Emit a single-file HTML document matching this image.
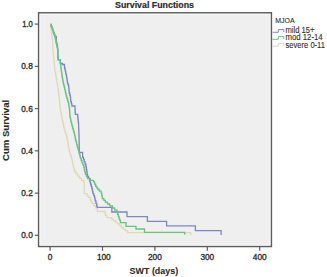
<!DOCTYPE html>
<html><head><meta charset="utf-8"><style>
html,body{margin:0;padding:0;background:#fff;width:327px;height:277px;overflow:hidden}
svg{display:block}
text{font-family:"Liberation Sans",sans-serif;fill:#2a2a2a;stroke:#2a2a2a;stroke-width:0.32px}
.tk{font-size:8.3px}
.bd{font-weight:bold;stroke-width:0.08px}
.lg{font-size:8.3px;stroke-width:0.1px}
.ax{stroke:#5c5c5c;stroke-width:1.2}
.c{fill:none;stroke-width:1.3;stroke-linejoin:miter}
</style></head><body>
<svg width="327" height="277" viewBox="0 0 327 277">
<rect x="38.6" y="12.8" width="232.8" height="233.7" fill="#efefef" stroke="#5c5c5c" stroke-width="1.5"/>
<rect x="40.1" y="14.3" width="229.8" height="230.7" fill="none" stroke="#f7f7f7" stroke-width="1"/>
<line x1="34.8" y1="24.1" x2="38.7" y2="24.1" class="ax"/>
<text x="32.8" y="27.200000000000003" text-anchor="end" class="tk" textLength="10.6" lengthAdjust="spacingAndGlyphs">1.0</text>
<line x1="34.8" y1="66.35" x2="38.7" y2="66.35" class="ax"/>
<text x="32.8" y="69.44999999999999" text-anchor="end" class="tk" >0.8</text>
<line x1="34.8" y1="108.6" x2="38.7" y2="108.6" class="ax"/>
<text x="32.8" y="111.69999999999999" text-anchor="end" class="tk" >0.6</text>
<line x1="34.8" y1="150.85" x2="38.7" y2="150.85" class="ax"/>
<text x="32.8" y="153.95" text-anchor="end" class="tk" >0.4</text>
<line x1="34.8" y1="193.1" x2="38.7" y2="193.1" class="ax"/>
<text x="32.8" y="196.2" text-anchor="end" class="tk" >0.2</text>
<line x1="34.8" y1="235.35" x2="38.7" y2="235.35" class="ax"/>
<text x="32.8" y="238.45" text-anchor="end" class="tk" >0.0</text>
<line x1="50.1" y1="246.5" x2="50.1" y2="250.8" class="ax"/>
<text x="50.1" y="259.6" text-anchor="middle" class="tk">0</text>
<line x1="102.5" y1="246.5" x2="102.5" y2="250.8" class="ax"/>
<text x="103.8" y="259.6" text-anchor="middle" class="tk">100</text>
<line x1="154.9" y1="246.5" x2="154.9" y2="250.8" class="ax"/>
<text x="154.9" y="259.6" text-anchor="middle" class="tk">200</text>
<line x1="207.3" y1="246.5" x2="207.3" y2="250.8" class="ax"/>
<text x="207.3" y="259.6" text-anchor="middle" class="tk">300</text>
<line x1="259.7" y1="246.5" x2="259.7" y2="250.8" class="ax"/>
<text x="259.7" y="259.6" text-anchor="middle" class="tk">400</text>
<text x="115" y="8.4" class="bd" style="stroke-width:0.2px" font-size="9.4" textLength="79" lengthAdjust="spacingAndGlyphs">Survival Functions</text>
<text x="129.6" y="273.5" class="bd" font-size="9.3" textLength="48.6" lengthAdjust="spacingAndGlyphs">SWT (days)</text>
<text transform="translate(8.5,160.9) rotate(-90)" x="0" y="0" class="bd" font-size="9.3" textLength="61" lengthAdjust="spacingAndGlyphs">Cum Survival</text>
<text x="275.2" y="22.9" class="lg" style="font-size:7.8px" textLength="19.4" lengthAdjust="spacingAndGlyphs">MJOA</text>
<text x="285.5" y="32.9" class="lg" textLength="29" lengthAdjust="spacingAndGlyphs">mild 15+</text>
<text x="285.5" y="39.9" class="lg" textLength="37.2" lengthAdjust="spacingAndGlyphs">mod 12-14</text>
<text x="285.5" y="47.6" class="lg" textLength="39.5" lengthAdjust="spacingAndGlyphs">severe 0-11</text>
<polyline class="c" stroke="#7c86cc" style="stroke-width:1" points="272.5,32.3 278.3,32.3 278.3,29.6 283.8,29.6 283.8,32"/>
<polyline class="c" stroke="#68c47c" style="stroke-width:1" points="272.5,39.3 278.3,39.3 278.3,36.6 283.8,36.6 283.8,39"/>
<polyline class="c" stroke="#e0dab4" style="stroke-width:1" points="272.5,46.3 278.3,46.3 278.3,43.6 283.8,43.6 283.8,46"/>
<polyline class="c" stroke="#e0dab4" points="50.50,24.40 50.73,24.40 50.73,26.50 50.95,26.50 50.95,28.60 51.18,28.60 51.18,30.70 51.40,30.70 51.40,32.80 51.68,32.80 51.68,34.98 51.95,34.98 51.95,37.15 52.23,37.15 52.23,39.32 52.50,39.32 52.50,41.50 52.60,41.50 52.60,43.60 52.70,43.60 52.70,45.70 52.80,45.70 52.80,47.80 52.90,47.80 52.90,49.90 53.00,49.90 53.00,52.00 53.20,52.00 53.20,53.95 53.40,53.95 53.40,55.90 53.60,55.90 53.60,57.85 53.80,57.85 53.80,59.80 54.02,59.80 54.02,61.96 54.24,61.96 54.24,64.12 54.46,64.12 54.46,66.28 54.68,66.28 54.68,68.44 54.90,68.44 54.90,70.60 55.22,70.60 55.22,72.48 55.54,72.48 55.54,74.36 55.86,74.36 55.86,76.24 56.18,76.24 56.18,78.12 56.50,78.12 56.50,80.00 56.86,80.00 56.86,82.16 57.22,82.16 57.22,84.32 57.58,84.32 57.58,86.48 57.94,86.48 57.94,88.64 58.30,88.64 58.30,90.80 58.52,90.80 58.52,92.98 58.74,92.98 58.74,95.16 58.96,95.16 58.96,97.34 59.18,97.34 59.18,99.52 59.40,99.52 59.40,101.70 59.68,101.70 59.68,103.77 59.95,103.77 59.95,105.85 60.23,105.85 60.23,107.92 60.50,107.92 60.50,110.00 60.86,110.00 60.86,112.16 61.22,112.16 61.22,114.32 61.58,114.32 61.58,116.48 61.94,116.48 61.94,118.64 62.30,118.64 62.30,120.80 62.80,120.80 62.80,122.97 63.30,122.97 63.30,125.15 63.80,125.15 63.80,127.33 64.30,127.33 64.30,129.50 64.85,129.50 64.85,131.30 65.40,131.30 65.40,133.10 65.95,133.10 65.95,134.90 66.50,134.90 66.50,136.70 66.93,136.70 66.93,138.70 67.37,138.70 67.37,140.70 67.80,140.70 67.80,142.70 68.08,142.70 68.08,144.52 68.35,144.52 68.35,146.35 68.63,146.35 68.63,148.18 68.90,148.18 68.90,150.00 69.43,150.00 69.43,151.80 69.97,151.80 69.97,153.60 70.50,153.60 70.50,155.40 71.03,155.40 71.03,157.20 71.57,157.20 71.57,159.00 72.10,159.00 72.10,160.80 72.47,160.80 72.47,162.63 72.83,162.63 72.83,164.47 73.20,164.47 73.20,166.30 73.63,166.30 73.63,168.03 74.07,168.03 74.07,169.77 74.50,169.77 74.50,171.50 76.00,171.50 76.00,173.85 77.50,173.85 77.50,176.20 79.55,176.20 79.55,178.40 81.60,178.40 81.60,180.60 83.70,180.60 83.70,182.80 84.30,182.80 84.30,184.00 84.30,193.60 87.00,193.60 87.00,195.80 88.60,195.80 88.60,197.40 90.20,197.40 90.20,199.00 90.75,199.00 90.75,200.50 91.30,200.50 91.30,202.00 92.30,202.00 92.30,203.70 94.10,203.70 94.10,205.85 95.90,205.85 95.90,208.00 97.40,208.00 97.40,209.40 97.40,211.50 104.60,211.50 105.00,211.50 105.00,213.40 105.40,213.40 105.40,215.30 106.90,215.30 106.90,217.60 111.50,217.60 111.50,219.10 113.40,219.10 113.40,220.65 115.30,220.65 115.30,222.20 117.20,222.20 117.20,223.70 119.10,223.70 119.10,225.20 121.40,225.20 121.40,227.50 123.30,227.50 123.30,229.05 125.20,229.05 125.20,230.60 127.50,230.60 127.50,232.60 190.80,232.60 190.80,235.20"/>
<polyline class="c" stroke="#7c86cc" points="50.50,24.40 51.20,24.40 51.20,26.42 51.90,26.42 51.90,28.43 52.60,28.43 52.60,30.45 53.30,30.45 53.30,32.47 54.00,32.47 54.00,34.48 54.70,34.48 54.70,36.50 56.30,36.50 56.30,42.60 56.85,42.60 56.85,44.80 57.40,44.80 57.40,47.00 57.65,47.00 57.65,49.50 57.90,49.50 57.90,52.00 57.90,52.00 57.90,54.25 57.90,54.25 57.90,56.50 58.10,56.50 58.10,58.15 58.30,58.15 58.30,59.80 60.30,59.80 60.30,61.00 60.30,63.50 62.50,63.50 62.50,64.50 64.20,64.50 64.40,64.50 64.40,66.50 64.60,66.50 64.60,68.50 65.15,68.50 65.15,70.90 65.70,70.90 65.70,73.30 66.10,73.30 66.10,74.95 66.50,74.95 66.50,76.60 66.75,76.60 66.75,78.30 67.00,78.30 67.00,80.00 67.25,80.00 67.25,81.65 67.50,81.65 67.50,83.30 68.05,83.30 68.05,84.90 68.60,84.90 68.60,86.50 68.80,86.50 68.80,88.67 69.00,88.67 69.00,90.83 69.20,90.83 69.20,93.00 69.75,93.00 69.75,95.15 70.30,95.15 70.30,97.30 70.55,97.30 70.55,99.50 70.80,99.50 70.80,101.70 71.35,101.70 71.35,103.85 71.90,103.85 71.90,106.00 74.80,106.00 74.92,106.00 74.92,108.08 75.05,108.08 75.05,110.15 75.17,110.15 75.17,112.23 75.30,112.23 75.30,114.30 77.50,114.30 77.67,114.30 77.67,116.13 77.83,116.13 77.83,117.97 78.00,117.97 78.00,119.80 78.20,119.80 78.20,121.60 78.40,121.60 78.40,123.40 78.60,123.40 78.60,125.20 78.67,125.20 78.67,127.31 78.74,127.31 78.74,129.43 78.81,129.43 78.81,131.54 78.89,131.54 78.89,133.66 78.96,133.66 78.96,135.77 79.03,135.77 79.03,137.89 79.10,137.89 79.10,140.00 79.13,140.00 79.13,142.08 79.17,142.08 79.17,144.17 79.20,144.17 79.20,146.25 79.23,146.25 79.23,148.33 79.27,148.33 79.27,150.42 79.30,150.42 79.30,152.50 82.60,152.50 82.60,152.50 82.60,154.90 82.60,154.90 82.60,157.30 83.40,157.30 83.40,159.50 84.20,159.50 84.20,161.70 85.00,161.70 85.00,163.85 85.80,163.85 85.80,166.00 86.15,166.00 86.15,168.00 86.50,168.00 86.50,170.00 86.83,170.00 86.83,172.17 87.17,172.17 87.17,174.33 87.50,174.33 87.50,176.50 88.50,176.50 88.50,178.25 89.50,178.25 89.50,180.00 89.90,180.00 89.90,181.50 90.30,181.50 90.30,183.00 90.80,183.00 90.80,184.75 91.30,184.75 91.30,186.50 91.75,186.50 91.75,188.25 92.20,188.25 92.20,190.00 92.60,190.00 92.60,191.80 93.00,191.80 93.00,193.60 93.75,193.60 93.75,195.55 94.50,195.55 94.50,197.50 94.85,197.50 94.85,199.15 95.20,199.15 95.20,200.80 95.95,200.80 95.95,203.30 96.70,203.30 96.70,205.80 97.20,205.80 97.20,207.30 111.80,207.30 111.80,212.00 127.00,212.00 127.00,216.60 147.40,216.60 147.40,221.30 166.60,221.30 166.60,225.90 195.40,225.90 195.40,230.60 221.10,230.60 221.10,235.00"/>
<polyline class="c" stroke="#68c47c" points="50.50,24.40 51.20,24.40 51.20,26.35 51.90,26.35 51.90,28.30 52.60,28.30 52.60,30.25 53.30,30.25 53.30,32.20 54.00,32.20 54.00,34.15 54.70,34.15 54.70,36.10 55.07,36.10 55.07,37.90 55.43,37.90 55.43,39.70 55.80,39.70 55.80,41.50 56.20,41.50 56.20,43.37 56.60,43.37 56.60,45.25 57.00,45.25 57.00,47.12 57.40,47.12 57.40,49.00 57.65,49.00 57.65,50.50 57.90,50.50 57.90,52.00 57.90,52.00 57.90,54.25 57.90,54.25 57.90,56.50 58.00,56.50 58.00,58.15 58.10,58.15 58.10,59.80 60.30,59.80 60.30,63.00 60.57,63.00 60.57,65.25 60.85,65.25 60.85,67.50 61.12,67.50 61.12,69.75 61.40,69.75 61.40,72.00 61.70,72.00 61.70,74.00 62.00,74.00 62.00,76.00 62.30,76.00 62.30,78.00 62.60,78.00 62.60,80.00 63.00,80.00 63.00,82.00 63.40,82.00 63.40,84.00 63.80,84.00 63.80,85.50 64.20,85.50 64.20,87.00 64.70,87.00 64.70,89.25 65.20,89.25 65.20,91.50 65.70,91.50 65.70,93.75 66.20,93.75 66.20,96.00 66.80,96.00 66.80,98.00 67.40,98.00 67.40,100.00 67.95,100.00 67.95,102.00 68.50,102.00 68.50,104.00 68.83,104.00 68.83,106.00 69.17,106.00 69.17,108.00 69.50,108.00 69.50,110.00 69.63,110.00 69.63,112.17 69.77,112.17 69.77,114.33 69.90,114.33 69.90,116.50 70.27,116.50 70.27,118.30 70.63,118.30 70.63,120.10 71.00,120.10 71.00,121.90 71.53,121.90 71.53,124.07 72.07,124.07 72.07,126.23 72.60,126.23 72.60,128.40 73.17,128.40 73.17,130.20 73.73,130.20 73.73,132.00 74.30,132.00 74.30,133.80 74.70,133.80 74.70,135.87 75.10,135.87 75.10,137.93 75.50,137.93 75.50,140.00 76.07,140.00 76.07,142.17 76.63,142.17 76.63,144.33 77.20,144.33 77.20,146.50 77.73,146.50 77.73,148.30 78.27,148.30 78.27,150.10 78.80,150.10 78.80,151.90 79.33,151.90 79.33,154.07 79.87,154.07 79.87,156.23 80.40,156.23 80.40,158.40 81.20,158.40 81.20,160.60 82.00,160.60 82.00,162.80 82.85,162.80 82.85,164.95 83.70,164.95 83.70,167.10 84.30,167.10 84.30,170.00 84.85,170.00 84.85,172.15 85.40,172.15 85.40,174.30 86.45,174.30 86.45,176.50 87.50,176.50 87.50,178.70 90.30,178.70 90.30,180.30 93.50,180.30 93.50,181.90 94.60,181.90 94.60,184.10 95.70,184.10 95.70,186.30 96.75,186.30 96.75,187.90 97.80,187.90 97.80,189.50 99.45,189.50 99.45,191.15 101.10,191.15 101.10,192.80 101.70,192.80 101.70,195.00 102.05,195.00 102.05,196.80 102.40,196.80 102.40,198.60 103.85,198.60 103.85,200.40 105.30,200.40 105.30,202.20 107.50,202.20 107.50,204.00 109.70,204.00 109.70,205.80 112.50,205.80 112.50,208.00 114.70,208.00 114.70,210.20 116.90,210.20 116.90,212.30 117.60,212.30 117.60,214.50 118.30,214.50 118.30,216.70 119.03,216.70 119.03,218.67 119.77,218.67 119.77,220.63 120.50,220.63 120.50,222.60 126.00,222.60 126.00,226.30 136.00,226.30 136.00,229.00 144.50,229.00 144.50,232.40 184.70,232.40 184.70,234.70"/>
</svg>
</body></html>
